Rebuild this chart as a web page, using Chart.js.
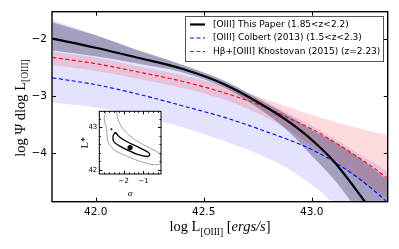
<!DOCTYPE html>
<html>
<head>
<meta charset="utf-8">
<script src="https://cdn.jsdelivr.net/npm/chart.js@4.4.1/dist/chart.umd.min.js"></script>
<style>
  body { margin: 0; background: #fff; }
  #wrap { position: relative; width: 399px; height: 249px; }
  #main { position: absolute; left: 0; top: 0; }
  #inset { position: absolute; left: 75px; top: 104px; }
</style>
</head>
<body>
<div id="wrap">
  <canvas id="main" width="399" height="249"></canvas>
  <canvas id="inset" width="95" height="102"></canvas>
</div>
<script>
// ---------- data
const logL = [41.8, 42.0, 42.2, 42.4, 42.6, 42.8, 42.9, 43.0, 43.1, 43.2, 43.3, 43.35];

const thisPaper   = [-1.99, -2.15, -2.33, -2.52, -2.80, -3.22, -3.47, -3.77, -4.14, -4.62, -5.15, -5.45];
const thisPaperHi = [-1.70, -1.93, -2.20, -2.45, -2.74, -3.15, -3.36, -3.60, -3.80, -4.04, -4.32, -4.47];
const thisPaperLo = [-2.20, -2.30, -2.43, -2.58, -2.86, -3.34, -3.65, -4.05, -4.45, -4.95, -5.50, -5.80];

const colbert   = [-2.68, -2.80, -2.97, -3.17, -3.38, -3.64, -3.78, -3.94, -4.15, -4.40, -4.70, -4.87];
const colbertHi = [-1.66, -1.92, -2.20, -2.45, -2.74, -3.12, -3.32, -3.52, -3.74, -3.97, -4.20, -4.32];
const colbertLo = [-3.12, -3.20, -3.35, -3.55, -3.80, -4.10, -4.30, -4.56, -4.88, -5.25, -5.65, -5.85];

const khostovan   = [-2.32, -2.43, -2.58, -2.74, -2.95, -3.22, -3.40, -3.58, -3.80, -4.04, -4.30, -4.45];
const khostovanHi = [-2.22, -2.32, -2.48, -2.63, -2.83, -3.07, -3.20, -3.33, -3.45, -3.55, -3.64, -3.68];
const khostovanLo = [-2.46, -2.56, -2.70, -2.86, -3.07, -3.40, -3.62, -3.88, -4.14, -4.42, -4.68, -4.80];

const xTicks = [42.0, 42.5, 43.0];
const yTicks = [-4, -3, -2];

const legendLabels = ['[OIII] This Paper (1.85<z<2.2)', '[OIII] Colbert (2013) (1.5<z<2.3)', 'H\u03B2+[OIII] Khostovan (2015) (z=2.23)'];

// inset: alpha / L* confidence contours
const sig2Alpha = [-2.88, -3.0, -2.88, -2.8, -2.47, -1.8, -1.13, -0.47, -0.12, -0.12, -0.47, -1.13, -1.63, -2.05, -2.3, -2.43, -2.88];
const sig2Lstar = [43.42, 43.19, 42.96, 42.65, 42.46, 42.31, 42.19, 42.12, 42.15, 42.35, 42.46, 42.62, 42.77, 42.96, 43.19, 43.42, 43.42];
const sig1Alpha = [-2.43, -2.22, -1.8, -1.3, -0.8, -0.67, -0.8, -1.3, -1.8, -2.22, -2.5, -2.55, -2.43];
const sig1Lstar = [42.88, 42.77, 42.65, 42.54, 42.42, 42.35, 42.31, 42.36, 42.46, 42.56, 42.65, 42.79, 42.88];
const bestAlpha = [-1.68];
const bestLstar = [42.52];
const peakAlpha = [-2.63];
const peakLstar = [42.95];

const insetXTicks = [-2, -1];
const insetYTicks = [42, 43];
const insetXMinor = [-3, -2.75, -2.5, -2.25, -1.75, -1.5, -1.25, -0.75, -0.5, -0.25];
const insetYMinor = [42.2, 42.4, 42.6, 42.8, 43.2];

// ---------- helpers
function xy(xs, ys) {
  return xs.map(function (x, i) { return { x: x, y: ys[i] }; });
}

function curve(label, ys, color, width, dash) {
  return {
    label: label,
    data: xy(logL, ys),
    borderColor: color,
    borderWidth: width,
    borderDash: dash,
    pointRadius: 0,
    fill: false,
    cubicInterpolationMode: 'monotone'
  };
}

function band(ys, fillColor, fillTo) {
  return {
    data: xy(logL, ys),
    borderWidth: 0,
    borderColor: 'rgba(0,0,0,0)',
    backgroundColor: fillColor,
    pointRadius: 0,
    fill: fillTo,
    cubicInterpolationMode: 'monotone'
  };
}

function drawRuns(ctx, runs, x, y) {
  let total = 0;
  runs.forEach(function (r) { ctx.font = r.font; r.w = ctx.measureText(r.text).width; total += r.w; });
  let cx = x - total / 2;
  ctx.textAlign = 'left';
  ctx.textBaseline = 'alphabetic';
  runs.forEach(function (r) {
    ctx.font = r.font;
    ctx.fillText(r.text, cx, y + (r.dy || 0));
    cx += r.w;
  });
}

// frame + inward ticks, like the matplotlib axes
const framePlugin = {
  id: 'frame',
  beforeDatasetsDraw(chart, args, opts) {
    if (!opts.background) return;
    const a = chart.chartArea;
    chart.ctx.save();
    chart.ctx.fillStyle = opts.background;
    chart.ctx.fillRect(a.left, a.top, a.right - a.left, a.bottom - a.top);
    chart.ctx.restore();
  },
  afterDatasetsDraw(chart, args, opts) {
    const ctx = chart.ctx, a = chart.chartArea, sx = chart.scales.x, sy = chart.scales.y;
    ctx.save();
    ctx.strokeStyle = '#000';
    function ticks(vals, len) {
      ctx.beginPath();
      vals.x.forEach(function (v) {
        const p = Math.round(sx.getPixelForValue(v)) + 0.5;
        ctx.moveTo(p, a.bottom); ctx.lineTo(p, a.bottom - len);
        ctx.moveTo(p, a.top); ctx.lineTo(p, a.top + len);
      });
      vals.y.forEach(function (v) {
        const p = Math.round(sy.getPixelForValue(v)) + 0.5;
        ctx.moveTo(a.left, p); ctx.lineTo(a.left + len, p);
        ctx.moveTo(a.right, p); ctx.lineTo(a.right - len, p);
      });
      ctx.stroke();
    }
    ctx.lineWidth = 1;
    ticks({ x: opts.xMajor, y: opts.yMajor }, opts.len);
    if (opts.xMinor) ticks({ x: opts.xMinor, y: opts.yMinor }, opts.len / 2);
    ctx.lineWidth = opts.width;
    ctx.strokeRect(a.left, a.top, a.right - a.left, a.bottom - a.top);
    ctx.restore();
  }
};

// legend box and axis titles for the main plot
const legendOrder = [0, 2, 1];
const decorPlugin = {
  id: 'decor',
  afterDraw(chart) {
    const ctx = chart.ctx;
    ctx.save();
    // legend
    const bx = 185.5, by = 16.5, bw = 198, bh = 45;
    ctx.fillStyle = 'rgba(255,255,255,0.9)';
    ctx.fillRect(bx, by, bw, bh);
    ctx.strokeStyle = '#555';
    ctx.lineWidth = 1;
    ctx.strokeRect(bx, by, bw, bh);
    ctx.font = '9px "DejaVu Sans"';
    ctx.textBaseline = 'middle';
    legendOrder.forEach(function (di, i) {
      const ds = chart.data.datasets[di];
      const yy = 24.5 + i * 13.5;
      ctx.strokeStyle = ds.borderColor;
      ctx.lineWidth = ds.borderWidth;
      ctx.setLineDash(ds.borderDash || []);
      ctx.beginPath();
      ctx.moveTo(190, yy); ctx.lineTo(205, yy);
      ctx.stroke();
      ctx.setLineDash([]);
      ctx.fillStyle = '#000';
      ctx.fillText(ds.label, 213, yy);
    });
    // axis titles
    ctx.fillStyle = '#000';
    const big = '14.5px "Liberation Serif"';
    const small = '9.5px "Liberation Serif"';
    drawRuns(ctx, [
      { text: 'log L', font: big },
      { text: '[OIII]', font: small, dy: 3.5 },
      { text: ' [', font: big },
      { text: 'ergs/s', font: 'italic ' + big },
      { text: ']', font: big }
    ], 220, 231);
    ctx.translate(24.5, 108);
    ctx.rotate(-Math.PI / 2);
    drawRuns(ctx, [
      { text: 'log \u03A8 dlog L', font: big },
      { text: '[OIII]', font: small, dy: 3.5 }
    ], 0, 0);
    ctx.restore();
  }
};

// ---------- main chart
const mainChart = new Chart(document.getElementById('main'), {
  type: 'line',
  data: {
    datasets: [
      curve(legendLabels[0], thisPaper, '#000000', 2.2, []),
      curve(legendLabels[2], khostovan, '#ff0000', 1.1, [4, 2.5]),
      curve(legendLabels[1], colbert, '#0000ff', 1.1, [4, 2.5]),
      band(thisPaperHi, 'rgba(25,25,60,0.33)', '+1'),
      band(thisPaperLo, 'rgba(0,0,0,0)', false),
      band(khostovanHi, 'rgba(255,0,0,0.14)', '+1'),
      band(khostovanLo, 'rgba(0,0,0,0)', false),
      band(colbertHi, 'rgba(0,0,255,0.11)', '+1'),
      band(colbertLo, 'rgba(0,0,0,0)', false)
    ]
  },
  options: {
    responsive: false,
    animation: false,
    events: [],
    layout: { padding: { left: 0, top: 11.7, right: 11.3, bottom: 0 } },
    plugins: {
      legend: { display: false },
      tooltip: { enabled: false },
      filler: { drawTime: 'beforeDatasetsDraw' },
      frame: { width: 1.4, len: 4, xMajor: xTicks, yMajor: yTicks }
    },
    scales: {
      x: {
        type: 'linear',
        min: 41.798,
        max: 43.352,
        grid: { display: false, drawTicks: false },
        border: { display: false },
        afterFit: function (s) { s.height = 47.3; },
        afterBuildTicks: function (s) { s.ticks = xTicks.map(function (v) { return { value: v }; }); },
        ticks: {
          padding: 4,
          color: '#000',
          font: { family: 'DejaVu Sans', size: 10.5 },
          maxRotation: 0,
          callback: function (v) { return Number(v).toFixed(1); }
        }
      },
      y: {
        type: 'linear',
        min: -4.86,
        max: -1.516,
        grid: { display: false, drawTicks: false },
        border: { display: false },
        afterFit: function (s) { s.width = 52; },
        afterBuildTicks: function (s) { s.ticks = yTicks.map(function (v) { return { value: v }; }); },
        ticks: {
          padding: 5,
          color: '#000',
          font: { family: 'DejaVu Sans', size: 10.5 },
          callback: function (v) { return '\u2212' + Math.abs(v); }
        }
      }
    }
  },
  plugins: [framePlugin, decorPlugin]
});

// ---------- inset: alpha vs L*
const insetChart = new Chart(document.getElementById('inset'), {
  type: 'scatter',
  data: {
    datasets: [
      { data: xy(bestAlpha, bestLstar), pointRadius: 2.6, backgroundColor: '#000', borderWidth: 0 },
      { data: xy(peakAlpha, peakLstar), pointRadius: 1, backgroundColor: '#000', borderWidth: 0 },
      { data: xy(sig1Alpha, sig1Lstar), showLine: true, borderColor: '#000', borderWidth: 1.3, pointRadius: 0, tension: 0.3 },
      { data: xy(sig2Alpha, sig2Lstar), showLine: true, borderColor: '#8a8a8a', borderWidth: 0.8, pointRadius: 0, tension: 0.3 }
    ]
  },
  options: {
    responsive: false,
    animation: false,
    events: [],
    layout: { padding: { left: 4, top: 7.3, right: 9, bottom: 7 } },
    plugins: {
      legend: { display: false },
      tooltip: { enabled: false },
      frame: { width: 1, len: 3, xMajor: insetXTicks, yMajor: insetYTicks, xMinor: insetXMinor, yMinor: insetYMinor, background: '#fff' }
    },
    scales: {
      x: {
        type: 'linear',
        min: -3.25,
        max: -0.1,
        grid: { display: false, drawTicks: false },
        border: { display: false },
        afterFit: function (s) { s.height = 25; },
        afterBuildTicks: function (s) { s.ticks = insetXTicks.map(function (v) { return { value: v }; }); },
        ticks: {
          padding: 3,
          color: '#000',
          font: { family: 'DejaVu Sans', size: 7 },
          maxRotation: 0,
          callback: function (v) { return '\u2212' + Math.abs(v); }
        },
        title: { display: true, text: '\u03B1', color: '#000', padding: { top: 1, bottom: 0 }, font: { family: 'Liberation Serif', size: 9, style: 'italic' } }
      },
      y: {
        type: 'linear',
        min: 41.9,
        max: 43.37,
        grid: { display: false, drawTicks: false },
        border: { display: false },
        afterFit: function (s) { s.width = 20.3; },
        afterBuildTicks: function (s) { s.ticks = insetYTicks.map(function (v) { return { value: v }; }); },
        ticks: {
          padding: 2,
          color: '#000',
          font: { family: 'DejaVu Sans', size: 7 },
          callback: function (v) { return String(v); }
        },
        title: { display: true, text: 'L*', color: '#000', padding: 0, font: { family: 'Liberation Serif', size: 10 } }
      }
    }
  },
  plugins: [framePlugin]
});
</script>
</body>
</html>
